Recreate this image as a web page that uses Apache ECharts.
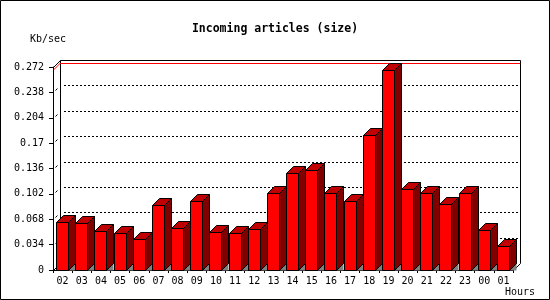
<!DOCTYPE html>
<html><head><meta charset="utf-8">
<script src="https://cdn.jsdelivr.net/npm/echarts@6/dist/echarts.min.js"></script>
<style>html,body{margin:0;padding:0;background:#fff}#c{width:550px;height:300px}</style>
</head><body><div id="c"></div>
<script>
const chartTitle = 'Incoming articles (size)';
const yAxisName = 'Kb/sec';
const xAxisName = 'Hours';
const hours = ['02','03','04','05','06','07','08','09','10','11','12','13','14','15','16','17','18','19','20','21','22','23','00','01'];
const sizeKbps = [0.064,0.0627,0.052,0.049,0.041,0.087,0.056,0.092,0.0505,0.049,0.0546,0.103,0.130,0.134,0.103,0.092,0.181,0.268,0.108,0.103,0.088,0.103,0.053,0.032];
const yTickLabels = ['0','0.034','0.068','0.102','0.136','0.17','0.204','0.238','0.272'];
const yMax = 0.272, yStep = 0.034;

const D = 7;
const FONT = 'DejaVu Sans Mono';
const maxVal = Math.max.apply(null, sizeKbps);

const chart = echarts.init(document.getElementById('c'), null, {renderer:'canvas'});

function ln(a,b,c,d,col,dash){
  return {type:'line', shape:{x1:a,y1:b,x2:c,y2:d},
    style:{stroke:col, fill:'none', lineWidth:1, lineDash:dash||null}};
}

function frameRender(params, api){
  const cs = params.coordSys;
  const x0 = cs.x + 0.5, x1 = cs.x + cs.width + 0.5;
  const yT = cs.y + 0.5, yB = cs.y + cs.height + 0.5;
  const els = [];
  for (let k = 1; k < yTickLabels.length - 1; k++) {
    const y = Math.round(api.coord([0, k*yStep])[1]) + 0.5;
    els.push(ln(cs.x+D+4, y-D, cs.x+cs.width+D, y-D, '#000', [2,2]));
    els.push(ln(x0+2, y-2, x0+4, y-4, '#000'));
  }
  els.push(
    ln(x0+D, yT-D, x1+D, yT-D, '#000'),
    ln(x0+D, yT-D, x0+D, yB-D, '#000'),
    ln(x1+D, yT-D, x1+D, yB-D, '#000'),
    ln(x0, yT, x0+D, yT-D, '#000'),
    ln(x0, yB, x0+D, yB-D, '#000'),
    ln(x1, yB, x1+D, yB-D, '#000')
  );
  return {type:'group', children: els};
}

function maxRender(params, api){
  const cs = params.coordSys;
  const xa = cs.x, xb = cs.x + cs.width;
  const ym = Math.round(api.coord([0, api.value(1)])[1]);
  return {type:'group', children:[
    {type:'polygon', shape:{points:[[xa,ym],[xa+D,ym-D],[xa+D+1,ym-D],[xa+1,ym]]}, style:{fill:'#ff0000', stroke:'none'}},
    {type:'rect', shape:{x:xa+D, y:ym-D, width:xb-xa, height:1}, style:{fill:'#ff0000', stroke:'none'}}
  ]};
}

function barRender(params, api){
  const i = api.value(0), v = api.value(1);
  const top = api.coord([i, v]);
  const base = api.coord([i, 0]);
  const c = top[0];
  const xl = Math.floor(c - 6) + 0.5, xr = xl + 12;
  const yt = Math.round(top[1]) + 0.5, yb = Math.round(base[1]) + 0.5;
  const st = (f) => ({fill:f, stroke:'#000', lineWidth:1});
  return {type:'group', children:[
    {type:'polygon', shape:{points:[[xr,yb],[xr+D,yb-D],[xr+D,yb]]}, style:{fill:'#808080', stroke:'none'}},
    {type:'polygon', shape:{points:[[xr,yt],[xr+D,yt-D],[xr+D,yb-D],[xr,yb]]}, style:st('#800000')},
    {type:'polygon', shape:{points:[[xl,yt],[xl+D,yt-D],[xr+D,yt-D],[xr,yt]]}, style:st('#c00000')},
    {type:'polygon', shape:{points:[[xl,yt],[xr,yt],[xr,yb],[xl,yb]]}, style:st('#ff0000')}
  ]};
}

chart.setOption({
  animation:false,
  backgroundColor:'#fff',
  title:{text:chartTitle, left:'center', top:18, textStyle:{fontFamily:FONT, fontSize:11.5, fontWeight:'bold', color:'#000'}},
  grid:{left:53,right:37,top:67,bottom:30},
  xAxis:{type:'category', data:hours, boundaryGap:true,
     axisLine:{show:true, lineStyle:{color:'#000', width:1}},
     axisTick:{show:true, length:3, lineStyle:{color:'#000'}},
     axisLabel:{color:'#000', fontFamily:FONT, fontSize:10, margin:6, interval:0},
     splitLine:{show:false}},
  yAxis:{type:'value', min:0, max:yMax, interval:yStep,
     axisLine:{show:true, lineStyle:{color:'#000', width:1}},
     axisTick:{show:true, length:4, lineStyle:{color:'#000'}},
     axisLabel:{color:'#000', fontFamily:FONT, fontSize:10, margin:9,
       formatter:(val) => yTickLabels[Math.round(val / yStep)]},
     splitLine:{show:false}},
  graphic:[
    {type:'rect', shape:{x:0.5,y:0.5,width:549,height:299}, style:{fill:'none', stroke:'#000', lineWidth:1}, z:100},
    {type:'text', x:30, y:39, style:{text:yAxisName, font:'10px "DejaVu Sans Mono"', fill:'#000', textVerticalAlign:'middle'}},
    {type:'text', x:505, y:292, style:{text:xAxisName, font:'10px "DejaVu Sans Mono"', fill:'#000', textVerticalAlign:'middle'}}
  ],
  series:[
    {type:'custom', renderItem:frameRender, data:[[0,0]], silent:true, z:1},
    {type:'custom', name:'Max', renderItem:maxRender, data:[[0,maxVal]], silent:true, z:2},
    {type:'custom', name:'Incoming size', renderItem:barRender,
     data:sizeKbps.map((v,i)=>[i,v]), encode:{x:0,y:1}, silent:true, z:3}
  ]
});
</script></body></html>
